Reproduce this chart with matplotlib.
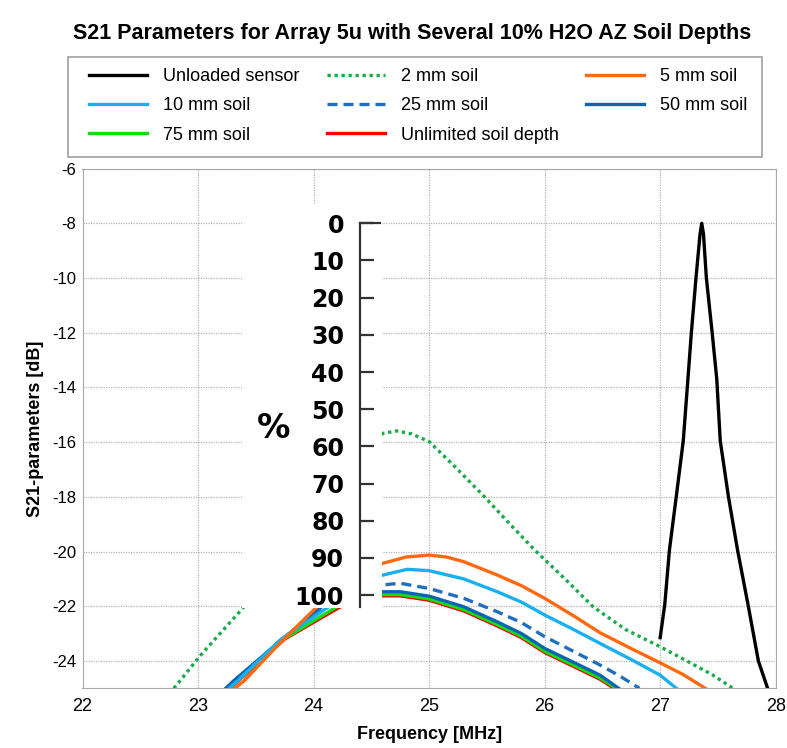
import matplotlib
matplotlib.use("Agg")
import matplotlib.pyplot as plt
from matplotlib.patches import Rectangle

plt.rcParams['font.family'] = ['Liberation Sans', 'DejaVu Sans']
plt.rcParams['axes.unicode_minus'] = False

# S21 traces, frequency in MHz and magnitude in dB
freq_unloaded = [27.00, 27.04, 27.08, 27.14, 27.20, 27.24, 27.27, 27.31, 27.345, 27.36,
                 27.375, 27.40, 27.45, 27.49, 27.52, 27.59, 27.67, 27.76, 27.85, 27.93, 28.0]
s21_unloaded = [-23.15, -21.93, -19.95, -17.97, -15.95, -13.7, -12.0, -10.0, -8.4, -8.0,
                -8.4, -10.0, -12.0, -13.7, -15.95, -17.97, -19.95, -21.93, -24.0, -25.0, -25.8]

freq_2mm = [22.79, 22.85, 23.01, 23.2, 23.38, 23.6, 23.8, 24.0, 24.2, 24.4, 24.6, 24.72, 24.85,
            25.0, 25.2, 25.48, 25.7, 25.92, 26.2, 26.42, 26.7, 27.0, 27.23, 27.45, 27.63]
s21_2mm = [-25.0, -24.7, -23.85, -22.95, -22.11, -20.9, -19.6, -18.4, -17.3, -16.4, -15.68, -15.59,
           -15.7, -15.98, -16.8, -18.0, -19.0, -19.97, -21.1, -22.02, -22.85, -23.48, -24.0, -24.5, -25.0]

freq_5mm = [23.32, 23.40, 23.72, 24.03, 24.2, 24.4, 24.6, 24.8, 25.0, 25.15, 25.3, 25.59, 25.8,
            26.0, 26.25, 26.48, 26.75, 27.0, 27.2, 27.39]
s21_5mm = [-25.0, -24.72, -23.3, -22.02, -21.35, -20.8, -20.43, -20.2, -20.13, -20.2, -20.37, -20.86,
           -21.25, -21.71, -22.35, -22.97, -23.55, -24.07, -24.5, -25.0]

freq_10mm = [23.27, 23.35, 23.72, 24.13, 24.3, 24.45, 24.6, 24.81, 25.0, 25.3, 25.59, 25.8, 26.0,
             26.25, 26.48, 26.75, 27.0, 27.14]
s21_10mm = [-25.0, -24.7, -23.2, -22.02, -21.5, -21.1, -20.86, -20.65, -20.70, -21.0, -21.47, -21.85,
            -22.32, -22.85, -23.36, -23.95, -24.52, -25.0]

freq_25mm = [23.26, 23.33, 23.72, 24.10, 24.3, 24.45, 24.6, 24.75, 25.0, 25.3, 25.59, 25.8, 26.0,
             26.25, 26.48, 26.65, 26.82]
s21_25mm = [-25.0, -24.72, -23.22, -22.02, -21.55, -21.32, -21.22, -21.16, -21.35, -21.71, -22.2,
            -22.6, -23.11, -23.65, -24.15, -24.55, -25.0]

freq_50mm = [23.24, 23.31, 23.72, 24.07, 24.3, 24.45, 24.6, 24.75, 25.0, 25.3, 25.59, 25.8, 26.0,
             26.25, 26.48, 26.64]
s21_50mm = [-25.0, -24.72, -23.24, -22.02, -21.65, -21.52, -21.47, -21.47, -21.63, -22.02, -22.57,
            -23.0, -23.54, -24.05, -24.52, -25.0]

freq_75mm = [23.27, 23.34, 23.74, 24.20, 24.4, 24.6, 24.75, 25.0, 25.3, 25.59, 25.8, 26.0, 26.25,
             26.48, 26.62]
s21_75mm = [-25.0, -24.72, -23.2, -22.02, -21.7, -21.57, -21.57, -21.73, -22.12, -22.67, -23.1,
            -23.64, -24.15, -24.62, -25.0]

freq_unlimited = [23.28, 23.35, 23.75, 24.22, 24.4, 24.6, 24.75, 25.0, 25.3, 25.59, 25.8, 26.0,
                  26.25, 26.48, 26.60]
s21_unlimited = [-25.0, -24.72, -23.2, -22.05, -21.75, -21.62, -21.62, -21.78, -22.17, -22.72,
                 -23.15, -23.69, -24.2, -24.67, -25.0]

x_ticks = [22, 23, 24, 25, 26, 27, 28]
y_ticks = [-24, -22, -20, -18, -16, -14, -12, -10, -8, -6]
pct_ticks = [0, 10, 20, 30, 40, 50, 60, 70, 80, 90, 100]

title = "S21 Parameters for Array 5u with Several 10% H2O AZ Soil Depths"

W, H = 787, 748


def fig_box(left, top, right, bottom):
    # pixel box -> figure fraction [x0, y0, w, h]
    return [left / W, 1 - bottom / H, (right - left) / W, (bottom - top) / H]


fig = plt.figure(figsize=(W / 100, H / 100), dpi=100)
ax = fig.add_axes(fig_box(82.5, 168.6, 775.7, 688.3))

lw = 2.4
series = [
    ("Unloaded sensor", freq_unloaded, s21_unloaded, dict(color="black")),
    ("2 mm soil", freq_2mm, s21_2mm, dict(color="#1aab4b", linestyle=(0, (1, 1.1)))),
    ("5 mm soil", freq_5mm, s21_5mm, dict(color="#ff6a10")),
    ("10 mm soil", freq_10mm, s21_10mm, dict(color="#1ab0f0")),
    ("25 mm soil", freq_25mm, s21_25mm, dict(color="#1f6fc0", linestyle=(0, (3, 1.8)))),
    ("50 mm soil", freq_50mm, s21_50mm, dict(color="#0a64b4")),
    ("75 mm soil", freq_75mm, s21_75mm, dict(color="#10e010")),
    ("Unlimited soil depth", freq_unlimited, s21_unlimited, dict(color="#ff0000")),
]

handles = {}
for z, (label, fx, sy, style) in enumerate(series):
    line, = ax.plot(fx, sy, lw=lw, label=label, zorder=10 - z, **style)
    handles[label] = line

ax.set_xlim(22, 28)
ax.set_ylim(-25, -6)
ax.set_xticks(x_ticks)
ax.set_yticks(y_ticks)
ax.grid(True, color="#b5b5b5", linestyle=(0, (1, 1)), linewidth=0.9)
ax.tick_params(length=0)
ax.tick_params(axis="x", pad=7, labelsize=13)
ax.tick_params(axis="y", pad=4.5, labelsize=12)
for sp in ax.spines.values():
    sp.set_color("#a8a8a8")
ax.set_xlabel("Frequency [MHz]", fontsize=13, fontweight="bold", labelpad=8)
ax.set_ylabel("S21-parameters [dB]", fontsize=13, fontweight="bold", labelpad=6)

# white panel carrying the percentage scale
fig.add_artist(Rectangle((241.7 / W, 1 - 608 / H), 140 / W, 403 / H,
                         transform=fig.transFigure, facecolor="white",
                         edgecolor="none", zorder=2))

ax_pct = fig.add_axes(fig_box(359.5, 223.3, 380, 606.7))
ax_pct.set_zorder(3)
ax_pct.patch.set_visible(False)
ax_pct.set_ylim(103.1, 0)
ax_pct.set_xlim(0, 1)
ax_pct.set_xticks([])
ax_pct.set_yticks(pct_ticks)
for side in ("top", "right", "bottom"):
    ax_pct.spines[side].set_visible(False)
ax_pct.spines["left"].set_color("#333333")
ax_pct.spines["left"].set_linewidth(1.6)
ax_pct.tick_params(axis="y", direction="in", length=10, width=1.6, color="#333333", pad=11)
for lab in ax_pct.get_yticklabels():
    lab.set_fontfamily("DejaVu Sans")
    lab.set_fontweight("bold")
    lab.set_fontsize(17)
ax_pct.plot([0, 1], [0, 0], color="#333333", lw=1.6, clip_on=False)
fig.text(273.3 / W, 1 - 429 / H, "%", fontsize=24, fontweight="bold",
         family="DejaVu Sans", ha="center", va="center")

# legend in a fixed frame above the axes
fig.add_artist(Rectangle((68 / W, 1 - 157 / H), 694 / W, 100 / H,
                         transform=fig.transFigure, fill=False,
                         edgecolor="#a0a0a0", linewidth=1.2))
order = ["Unloaded sensor", "10 mm soil", "75 mm soil",
         "2 mm soil", "25 mm soil", "Unlimited soil depth",
         "5 mm soil", "50 mm soil"]
fig.legend([handles[k] for k in order], order, ncol=3, mode="expand",
           loc="center", bbox_to_anchor=(78.2 / W, 1 - 156 / H, 680 / W, 100 / H),
           frameon=False, fontsize=13, handlelength=3.2, handletextpad=0.9,
           borderpad=0.6, labelspacing=0.67, borderaxespad=0)

fig.text(412 / W, 1 - 39 / H, title, ha="center", va="baseline",
         fontsize=15.5, fontweight="bold")

fig.savefig("out.png", dpi=100)
